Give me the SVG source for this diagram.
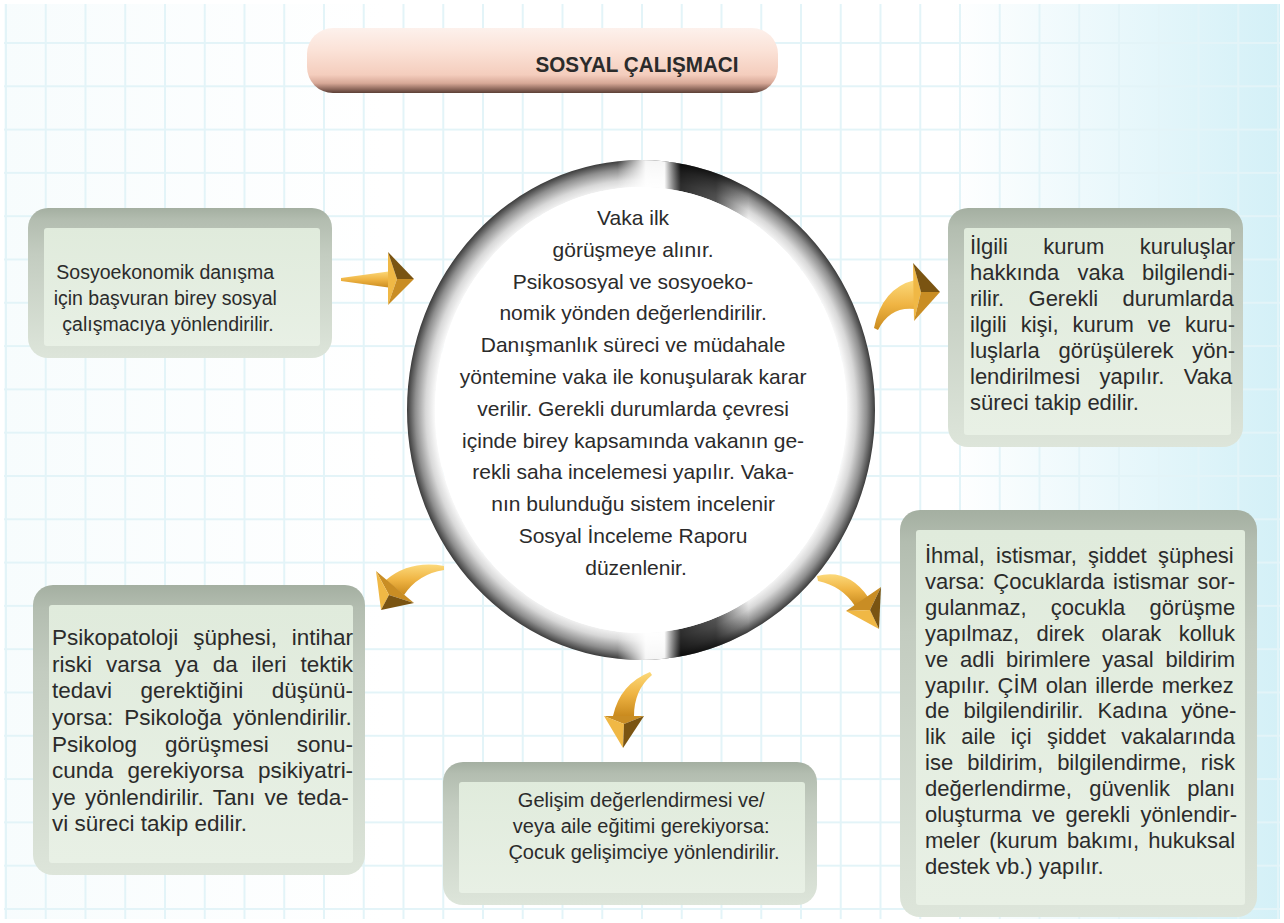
<svg xmlns="http://www.w3.org/2000/svg" width="1284" height="923" viewBox="0 0 1284 923">
<style>
.t{font-family:"Liberation Sans",Arial,sans-serif;fill:#2b2b2b}
.c{text-anchor:middle}
.f19{font-size:19.5px}.f20{font-size:20px}.f21{font-size:21px}.f22{font-size:22px}.f225{font-size:22.5px}
.outer{fill:url(#boxOuter)}
.inner{fill:url(#boxInner)}
.shaft{fill:url(#gold)}
.hl{fill:#f0b845}.hm{fill:#c98d24}.hd{fill:#7a5412}
</style>
<defs>
<pattern id="grid" x="5" y="42" width="39.75" height="43.3" patternUnits="userSpaceOnUse">
<path d="M1 0V43.3M0 1H39.75" stroke="#e3f4f8" stroke-width="2" fill="none"/>
</pattern>
<linearGradient id="bg" x1="0" y1="0" x2="1" y2="0">
<stop offset="0" stop-color="#f7fcfd"/><stop offset="0.3" stop-color="#ffffff"/><stop offset="0.74" stop-color="#ffffff"/><stop offset="1" stop-color="#d3f0f7"/>
</linearGradient>
<linearGradient id="title" x1="0" y1="0" x2="0" y2="1">
<stop offset="0" stop-color="#fdf1ec"/><stop offset="0.35" stop-color="#fbe2d7"/><stop offset="0.72" stop-color="#f4cdbd"/><stop offset="0.85" stop-color="#d7a897"/><stop offset="0.94" stop-color="#8e685c"/><stop offset="1" stop-color="#5b3f36"/>
</linearGradient>
<linearGradient id="boxOuter" x1="0" y1="0" x2="0" y2="1">
<stop offset="0" stop-color="#a4afa1"/><stop offset="0.08" stop-color="#b3bdb0"/><stop offset="0.3" stop-color="#c3ccc0"/><stop offset="1" stop-color="#dde5da"/>
</linearGradient>
<linearGradient id="boxInner" x1="0" y1="0" x2="0" y2="1">
<stop offset="0" stop-color="#e0ebdc"/><stop offset="1" stop-color="#e8f0e5"/>
</linearGradient>
<linearGradient id="gold" x1="0" y1="0" x2="0" y2="1">
<stop offset="0" stop-color="#fcd97a"/><stop offset="0.5" stop-color="#efb443"/><stop offset="1" stop-color="#c98a1e"/>
</linearGradient>
<radialGradient id="ringRad" cx="0.5" cy="0.5" r="0.5">
<stop offset="0.875" stop-color="#ffffff"/><stop offset="0.92" stop-color="#d8d8d8"/><stop offset="0.965" stop-color="#8e8e8e"/><stop offset="1" stop-color="#3c3c3c"/>
</radialGradient>
<linearGradient id="ringLin" gradientUnits="userSpaceOnUse" x1="407" y1="0" x2="875" y2="0">
<stop offset="0" stop-color="#fff" stop-opacity="0"/>
<stop offset="0.45" stop-color="#fff" stop-opacity="0"/>
<stop offset="0.51" stop-color="#fff" stop-opacity="0.95"/>
<stop offset="0.55" stop-color="#fff" stop-opacity="0.95"/>
<stop offset="0.585" stop-color="#000" stop-opacity="0.8"/>
<stop offset="0.66" stop-color="#000" stop-opacity="0.65"/>
<stop offset="0.73" stop-color="#000" stop-opacity="0"/>
<stop offset="1" stop-color="#000" stop-opacity="0"/>
</linearGradient>
</defs>

<g id="background">
<rect width="1284" height="923" fill="url(#bg)"/>
<rect width="1284" height="923" fill="url(#grid)"/>
<rect x="0" y="0" width="1284" height="923" fill="none" stroke="#fff" stroke-width="8"/>
</g>

<g id="title">
<rect x="307" y="28" width="471" height="65" rx="26" fill="url(#title)"/>
<text class="t" x="637" y="72" text-anchor="middle" font-size="22" font-weight="bold" fill="#2b2220" textLength="203" lengthAdjust="spacingAndGlyphs">SOSYAL ÇALIŞMACI</text>
</g>

<g id="center">
<path fill-rule="evenodd" fill="url(#ringRad)" d="M407,410 a234,250 0 1,0 468,0 a234,250 0 1,0 -468,0 Z M435,410 a206,223 0 1,0 412,0 a206,223 0 1,0 -412,0 Z"/>
<path fill-rule="evenodd" fill="url(#ringLin)" d="M407,410 a234,250 0 1,0 468,0 a234,250 0 1,0 -468,0 Z M435,410 a206,223 0 1,0 412,0 a206,223 0 1,0 -412,0 Z"/>
<ellipse cx="641" cy="410" rx="206" ry="223" fill="#fff"/>
<text class="t c f21">
<tspan x="636" y="225">Vaka ilk</tspan>
<tspan x="636" y="256.8">görüşmeye alınır.</tspan>
<tspan x="636" y="288.6">Psikososyal ve sosyoeko-</tspan>
<tspan x="636" y="320.4">nomik yönden değerlendirilir.</tspan>
<tspan x="636" y="352.2">Danışmanlık süreci ve müdahale</tspan>
<tspan x="636" y="384">yöntemine vaka ile konuşularak karar</tspan>
<tspan x="636" y="415.8">verilir. Gerekli durumlarda çevresi</tspan>
<tspan x="636" y="447.6">içinde birey kapsamında vakanın ge-</tspan>
<tspan x="636" y="479.4">rekli saha incelemesi yapılır. Vaka-</tspan>
<tspan x="636" y="511.2">nın bulunduğu sistem incelenir</tspan>
<tspan x="636" y="543">Sosyal İnceleme Raporu</tspan>
<tspan x="636" y="574.8">düzenlenir.</tspan>
</text>
</g>

<g id="box-basvuru">
<rect class="outer" x="28" y="208" width="304" height="150" rx="20"/>
<rect class="inner" x="44" y="228" width="276" height="118" rx="3"/>
<text class="t c f19">
<tspan x="168" y="279">Sosyoekonomik danışma</tspan>
<tspan x="168" y="305">için başvuran birey sosyal</tspan>
<tspan x="168" y="331">çalışmacıya yönlendirilir.</tspan>
</text>
</g>

<g id="box-kurum">
<rect class="outer" x="948" y="208" width="295" height="239" rx="20"/>
<rect class="inner" x="964" y="228" width="267" height="207" rx="3"/>
<text class="t f22">
<tspan x="970" y="254" word-spacing="29.2">İlgili kurum kuruluşlar</tspan>
<tspan x="970" y="280" word-spacing="12">hakkında vaka bilgilendi-</tspan>
<tspan x="970" y="306" word-spacing="18.2">rilir. Gerekli durumlarda</tspan>
<tspan x="970" y="332" word-spacing="7.9">ilgili kişi, kurum ve kuru-</tspan>
<tspan x="970" y="358" word-spacing="12.7">luşlarla görüşülerek yön-</tspan>
<tspan x="970" y="384" word-spacing="13.3">lendirilmesi yapılır. Vaka</tspan>
<tspan x="970" y="410">süreci takip edilir.</tspan>
</text>
</g>

<g id="box-psikolog">
<rect class="outer" x="33" y="585" width="332" height="290" rx="20"/>
<rect class="inner" x="49" y="605" width="304" height="258" rx="3"/>
<text class="t f225">
<tspan x="52" y="645" word-spacing="8.6">Psikopatoloji şüphesi, intihar</tspan>
<tspan x="52" y="672" word-spacing="7.7">riski varsa ya da ileri tektik</tspan>
<tspan x="52" y="698" word-spacing="22.3">tedavi gerektiğini düşünü-</tspan>
<tspan x="52" y="725" word-spacing="4.8">yorsa: Psikoloğa yönlendirilir.</tspan>
<tspan x="52" y="752" word-spacing="21.7">Psikolog görüşmesi sonu-</tspan>
<tspan x="52" y="778" word-spacing="8">cunda gerekiyorsa psikiyatri-</tspan>
<tspan x="52" y="805" word-spacing="3">ye yönlendirilir. Tanı ve teda-</tspan>
<tspan x="52" y="831">vi süreci takip edilir.</tspan>
</text>
</g>

<g id="box-gelisim">
<rect class="outer" x="443" y="762" width="374" height="143" rx="20"/>
<rect class="inner" x="459" y="782" width="346" height="111" rx="3"/>
<text class="t c f20">
<tspan x="644" y="807">Gelişim değerlendirmesi ve/</tspan>
<tspan x="644" y="833">veya aile eğitimi gerekiyorsa:</tspan>
<tspan x="644" y="859">Çocuk gelişimciye yönlendirilir.</tspan>
</text>
</g>

<g id="box-ihmal">
<rect class="outer" x="900" y="510" width="357" height="407" rx="20"/>
<rect class="inner" x="916" y="530" width="329" height="375" rx="3"/>
<text class="t f22">
<tspan x="925" y="563" word-spacing="5.1">İhmal, istismar, şiddet şüphesi</tspan>
<tspan x="925" y="588.9" word-spacing="2.3">varsa: Çocuklarda istismar sor-</tspan>
<tspan x="925" y="614.8" word-spacing="18.1">gulanmaz, çocukla görüşme</tspan>
<tspan x="925" y="640.7" word-spacing="11.2">yapılmaz, direk olarak kolluk</tspan>
<tspan x="925" y="666.6" word-spacing="5.7">ve adli birimlere yasal bildirim</tspan>
<tspan x="925" y="692.5" word-spacing="1.7">yapılır. ÇİM olan illerde merkez</tspan>
<tspan x="925" y="718.4" word-spacing="8">de bilgilendirilir. Kadına yöne-</tspan>
<tspan x="925" y="744.3" word-spacing="9.3">lik aile içi şiddet vakalarında</tspan>
<tspan x="925" y="770.2" word-spacing="8">ise bildirim, bilgilendirme, risk</tspan>
<tspan x="925" y="796.1" word-spacing="11.3">değerlendirme, güvenlik planı</tspan>
<tspan x="925" y="822" word-spacing="4.2">oluşturma ve gerekli yönlendir-</tspan>
<tspan x="925" y="847.9" word-spacing="3.1">meler (kurum bakımı, hukuksal</tspan>
<tspan x="925" y="873.8">destek vb.) yapılır.</tspan>
</text>
</g>

<g id="connectors">
<g id="arrow-in">
<polygon class="shaft" points="341,278 392,271 392,288 341,281"/>
<polygon class="hl" points="388,252 397,279 388,305"/>
<polygon class="hd" points="388,252 414,279 397,279"/>
<polygon class="hm" points="397,279 414,279 388,305"/>
</g>
<g id="arrow-kurum">
<path class="shaft" d="M874,328 Q882,288 915,280 L915,309 Q890,306 878,330 Z"/>
<polygon class="hl" points="913,263 921,292 914,321"/>
<polygon class="hd" points="913,263 940,292 921,292"/>
<polygon class="hm" points="921,292 940,292 914,321"/>
</g>
<g id="arrow-psikolog">
<path class="shaft" d="M444,566 Q410,560 386,580 L404,595 Q418,574 444,570 Z"/>
<polygon class="hm" points="376,571 414,603 389,595"/>
<polygon class="hl" points="376,571 389,595 381,610"/>
<polygon class="hd" points="389,595 414,603 381,610"/>
</g>
<g id="arrow-gelisim">
<path class="shaft" d="M650,672 Q620,684 613,716 L634,716 Q634,690 652,675 Z"/>
<polygon class="hm" points="604,716 644,716 624,724"/>
<polygon class="hl" points="604,716 624,724 623,748"/>
<polygon class="hd" points="624,724 644,716 623,748"/>
</g>
<g id="arrow-ihmal">
<path class="shaft" d="M817,576 Q848,568 868,597 L855,606 Q842,586 818,581 Z"/>
<polygon class="hm" points="846,611 881,587 870,610"/>
<polygon class="hl" points="846,611 870,610 879,629"/>
<polygon class="hd" points="870,610 881,587 879,629"/>
</g>
</g>
</svg>
